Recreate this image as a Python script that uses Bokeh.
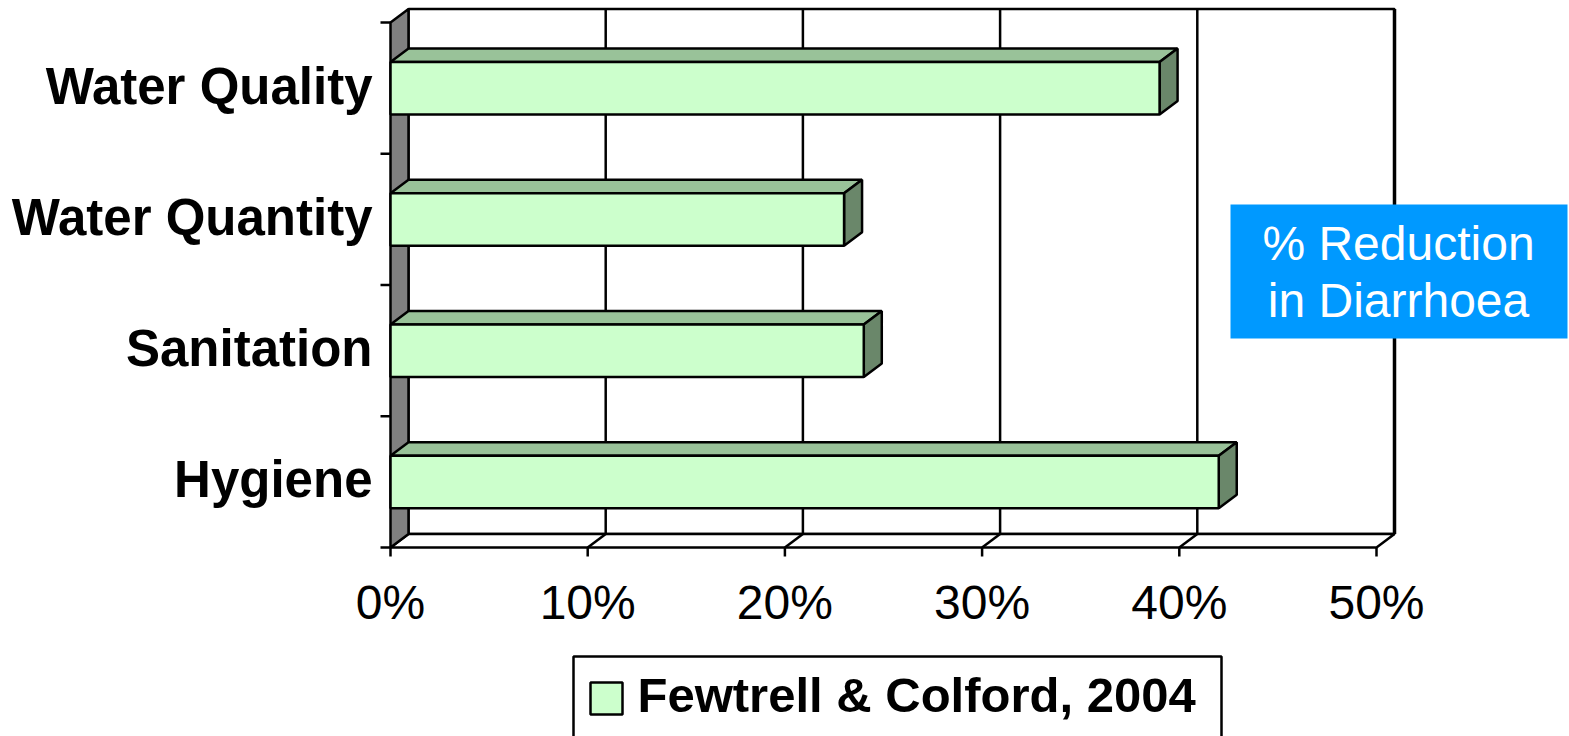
from bokeh.plotting import figure
from bokeh.models import Range1d
from bokeh.core.properties import value
from bokeh.embed import file_html
from bokeh.resources import INLINE

# ---- data -------------------------------------------------------------
categories = ["Hygiene", "Sanitation", "Water Quantity", "Water Quality"]
reduction_pct = [42, 24, 23, 39]
x_ticks = [0, 10, 20, 30, 40, 50]
x_tick_labels = ["0%", "10%", "20%", "30%", "40%", "50%"]
series_name = "Fewtrell & Colford, 2004"
note_lines = ["% Reduction", "in Diarrhoea"]

# ---- canvas / scale setup ---------------------------------------------
W, H = 1569, 736
PX_PER_PCT = 19.72      # horizontal pixels per percentage point
X0_PX = 390             # pixel column of 0 %
PX_PER_SLOT = 131.25    # vertical pixels per category slot
Y0_PX = 547             # pixel row of the front floor edge


def sx(px):
    """canvas column -> x data value"""
    return (px - X0_PX) / PX_PER_PCT


def sy(py):
    """canvas row -> y data value"""
    return (Y0_PX - py) / PX_PER_SLOT


# 3-D depth of the walls and bars
DX = 18 / PX_PER_PCT
DY = 13.5 / PX_PER_SLOT
HALF = 0.2  # half the bar thickness, in category slots

FRONT = "#CCFFCC"
TOP = "#99C299"
SIDE = "#6A876A"
WALL = "#808080"
NOTE_BLUE = "#0099FF"
LW = 2.5

n = len(categories)
x_max = x_ticks[-1]
centers = [i + 0.5 for i in range(n)]

p = figure(
    width=W, height=H,
    x_range=Range1d(sx(0), sx(W)),
    y_range=Range1d(sy(H), sy(0)),
    x_axis_type=None, y_axis_type=None,
    toolbar_location=None, output_backend="svg",
    min_border=0, outline_line_color=None,
    background_fill_color="white", border_fill_color="white",
)

# back wall with vertical gridlines
p.quad(left=DX, right=x_max + DX, bottom=DY, top=n + DY,
       fill_color="white", line_color="black", line_width=LW)
p.segment(x0=x_max + DX, y0=DY, x1=x_max + DX, y1=n + DY,
          line_color="black", line_width=3.5)
inner = x_ticks[1:-1]
p.segment(x0=[t + DX for t in inner], y0=DY,
          x1=[t + DX for t in inner], y1=n + DY,
          line_color="black", line_width=LW)

# floor, with the gridlines running across it
p.patch([0, x_max, x_max + DX, DX], [0, 0, DY, DY],
        fill_color="white", line_color="black", line_width=LW)
p.segment(x0=inner, y0=0, x1=[t + DX for t in inner], y1=DY,
          line_color="black", line_width=LW)

# grey side wall
p.patch([0, 0, DX, DX], [0, n, n + DY, DY],
        fill_color=WALL, line_color="black", line_width=LW)

# axis ticks
tick_len_y = 9 / PX_PER_SLOT
p.segment(x0=x_ticks, y0=0, x1=x_ticks, y1=-tick_len_y,
          line_color="black", line_width=LW)
slots = list(range(n + 1))
p.segment(x0=0, y0=slots, x1=-10 / PX_PER_PCT, y1=slots,
          line_color="black", line_width=LW)

# 3-D bars: top face, end face, front face
tops_x = [[0, v, v + DX, DX] for v in reduction_pct]
tops_y = [[c + HALF, c + HALF, c + HALF + DY, c + HALF + DY] for c in centers]
p.patches(tops_x, tops_y, fill_color=TOP, line_color="black", line_width=LW)

ends_x = [[v, v, v + DX, v + DX] for v in reduction_pct]
ends_y = [[c - HALF, c + HALF, c + HALF + DY, c - HALF + DY] for c in centers]
p.patches(ends_x, ends_y, fill_color=SIDE, line_color="black", line_width=LW)

p.quad(left=0, right=reduction_pct,
       bottom=[c - HALF for c in centers], top=[c + HALF for c in centers],
       fill_color=FRONT, line_color="black", line_width=LW)

# category labels
p.text(x=0, y=centers, text=categories, x_offset=-18, y_offset=-2,
       text_align="right", text_baseline="alphabetic",
       text_font=value("Liberation Sans"), text_font_style="bold",
       text_font_size="51px", text_color="black")

# percentage tick labels
p.text(x=x_ticks, y=0, text=x_tick_labels, y_offset=55,
       text_align="center", text_baseline="alphabetic",
       text_font=value("Liberation Sans"), text_font_size="48px",
       text_color="black")

# blue note box
p.quad(left=sx(1230), right=sx(1567), top=sy(204), bottom=sy(338),
       fill_color=NOTE_BLUE, line_color=None)
p.text(x=sx(1398), y=[sy(243), sy(300)], text=note_lines,
       text_align="center", text_baseline="alphabetic",
       text_font=value("Liberation Sans"), text_font_size="48px",
       text_color="white")

# legend
p.quad(left=sx(573), right=sx(1221), top=sy(656), bottom=sy(770),
       fill_color="white", line_color="black", line_width=LW)
p.quad(left=sx(590), right=sx(622), top=sy(682), bottom=sy(714),
       fill_color=FRONT, line_color="black", line_width=LW)
p.text(x=sx(637), y=sy(694), text=[series_name],
       text_align="left", text_baseline="alphabetic",
       text_font=value("Liberation Sans"), text_font_style="bold",
       text_font_size="49px", text_color="black")

open("out.html", "w").write(file_html(p, INLINE))
